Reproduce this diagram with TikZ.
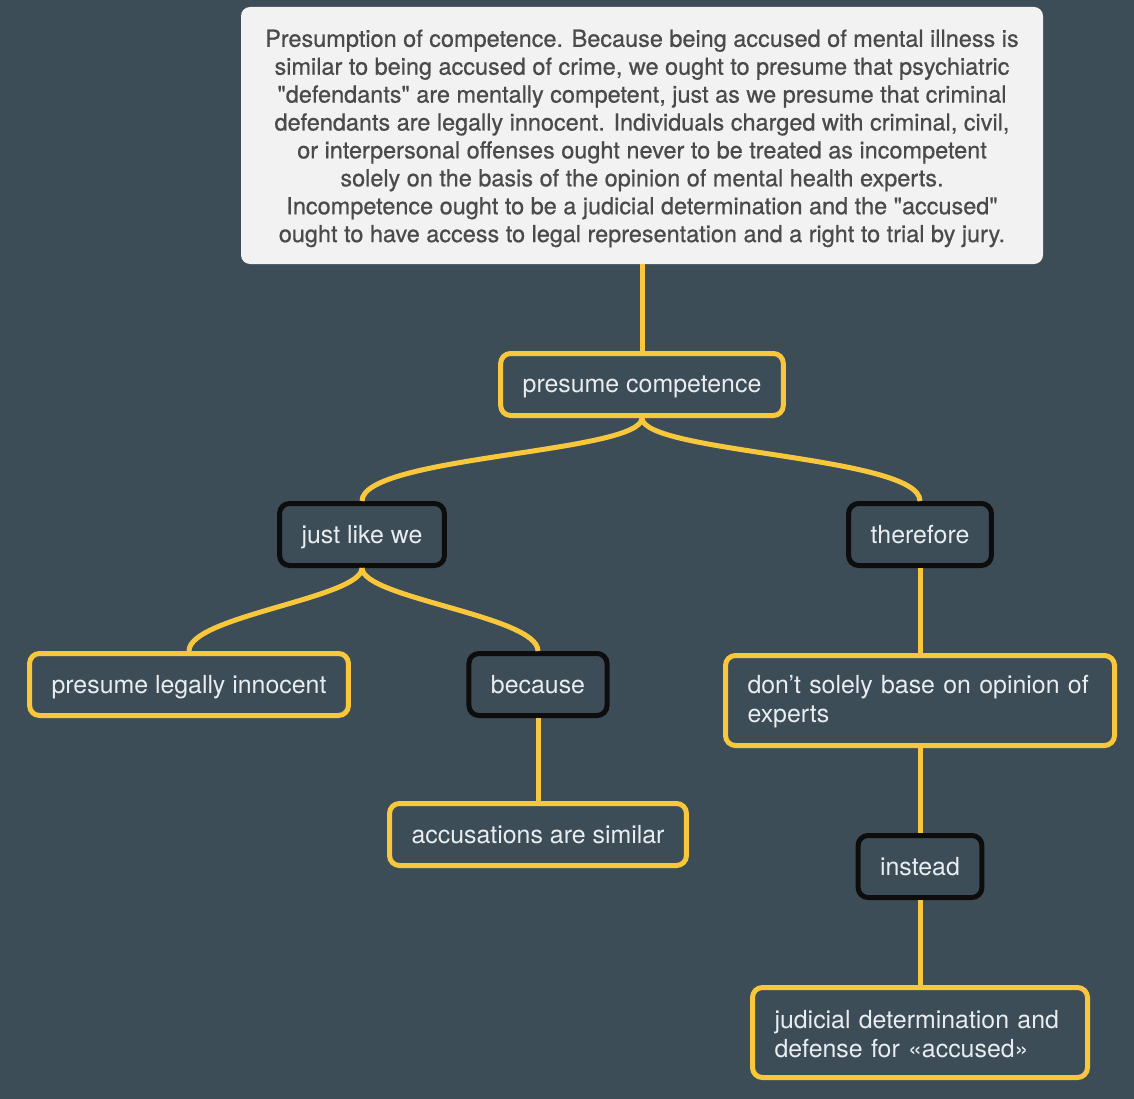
\documentclass[tikz,border=0pt]{standalone}
\usepackage{fontspec}
\setmainfont{TeX Gyre Heros}
\newfontfamily\mediumfont[FakeBold=0.6]{TeX Gyre Heros}
\usepackage{xcolor}
\usetikzlibrary{positioning}
\definecolor{slate}{HTML}{3D4D57}
\definecolor{gold}{HTML}{F9C73B}
\definecolor{paper}{HTML}{F2F2F2}
\definecolor{ink}{HTML}{4A4A4A}
\definecolor{chalk}{HTML}{E9EDF0}

\begin{document}
\begin{tikzpicture}[x=1pt,y=-1pt,node distance=83pt,line width=5pt,
                    main node/.style={rectangle,rounded corners=10pt,fill=slate,text=chalk,inner xsep=22pt,
                                      minimum height=62pt,text depth=0pt,font=\fontsize{24.9}{29}\selectfont},
                    gold node/.style={main node,draw=gold},
                    black node/.style={main node,draw=black!95},
                    wide node/.style={minimum height=90pt,align=left,text depth=},
                    link/.style={draw=gold,line width=5pt}]

  \fill[slate] (0,0) rectangle (1134,1099);

  \node[fill=paper,rounded corners=9pt,outer sep=0pt,minimum width=802pt,minimum height=257pt,align=center,
        text=ink,font=\mediumfont\fontsize{23.45}{27.9}\selectfont] (1) at (642,135.5)
    {\mbox{}\\[-4.9pt]
     Presumption of competence. Because being accused of mental illness is\\
     similar to being accused of crime, we ought to presume that psychiatric\\
     \textquotedbl defendants\textquotedbl{} are mentally competent, just as we presume that criminal\\
     defendants are legally innocent. Individuals charged with criminal, civil,\\
     or interpersonal offenses ought never to be treated as incompetent\\
     solely on the basis of the opinion of mental health experts.\\
     Incompetence ought to be a judicial determination and the \textquotedbl accused\textquotedbl\\
     ought to have access to legal representation and a right to trial by jury.};
  \node[gold node] (2) [below=87pt of 1] {presume competence};
  \node[black node] (3) [below=of 2,xshift=-280pt] {just like we};
  \node[black node] (4) [below=of 2,xshift=278pt] {therefore};
  \node[gold node] (5) [below=of 3,xshift=-173pt] {presume legally innocent};
  \node[black node] (6) [below=of 3,xshift=176pt] {because};
  \node[gold node] (7) [below=of 6] {accusations are similar};
  \node[gold node,wide node,text width=345pt] (8) [below=85pt of 4] {\rule{0pt}{21pt}don’t solely base on opinion of\\experts};
  \node[black node] (9) [below=85pt of 8] {instead};
  \node[gold node,wide node,text width=291pt] (10) [below=85pt of 9] {\rule{0pt}{22pt}judicial determination and\\defense for «accused»};

  \path[link]
    (1) edge (2)
    (6) edge (7)
    (4) edge (8)
    (8) edge (9)
    (9) edge (10);
  \draw[link] (2.south) .. controls +(0pt,-35pt) and +(0pt,45pt) .. (3.north);
  \draw[link] (2.south) .. controls +(0pt,-35pt) and +(0pt,45pt) .. (4.north);
  \draw[link] (3.south) .. controls +(0pt,-30pt) and +(0pt,35pt) .. (5.north);
  \draw[link] (3.south) .. controls +(0pt,-30pt) and +(0pt,35pt) .. (6.north);
\end{tikzpicture}
\end{document}
